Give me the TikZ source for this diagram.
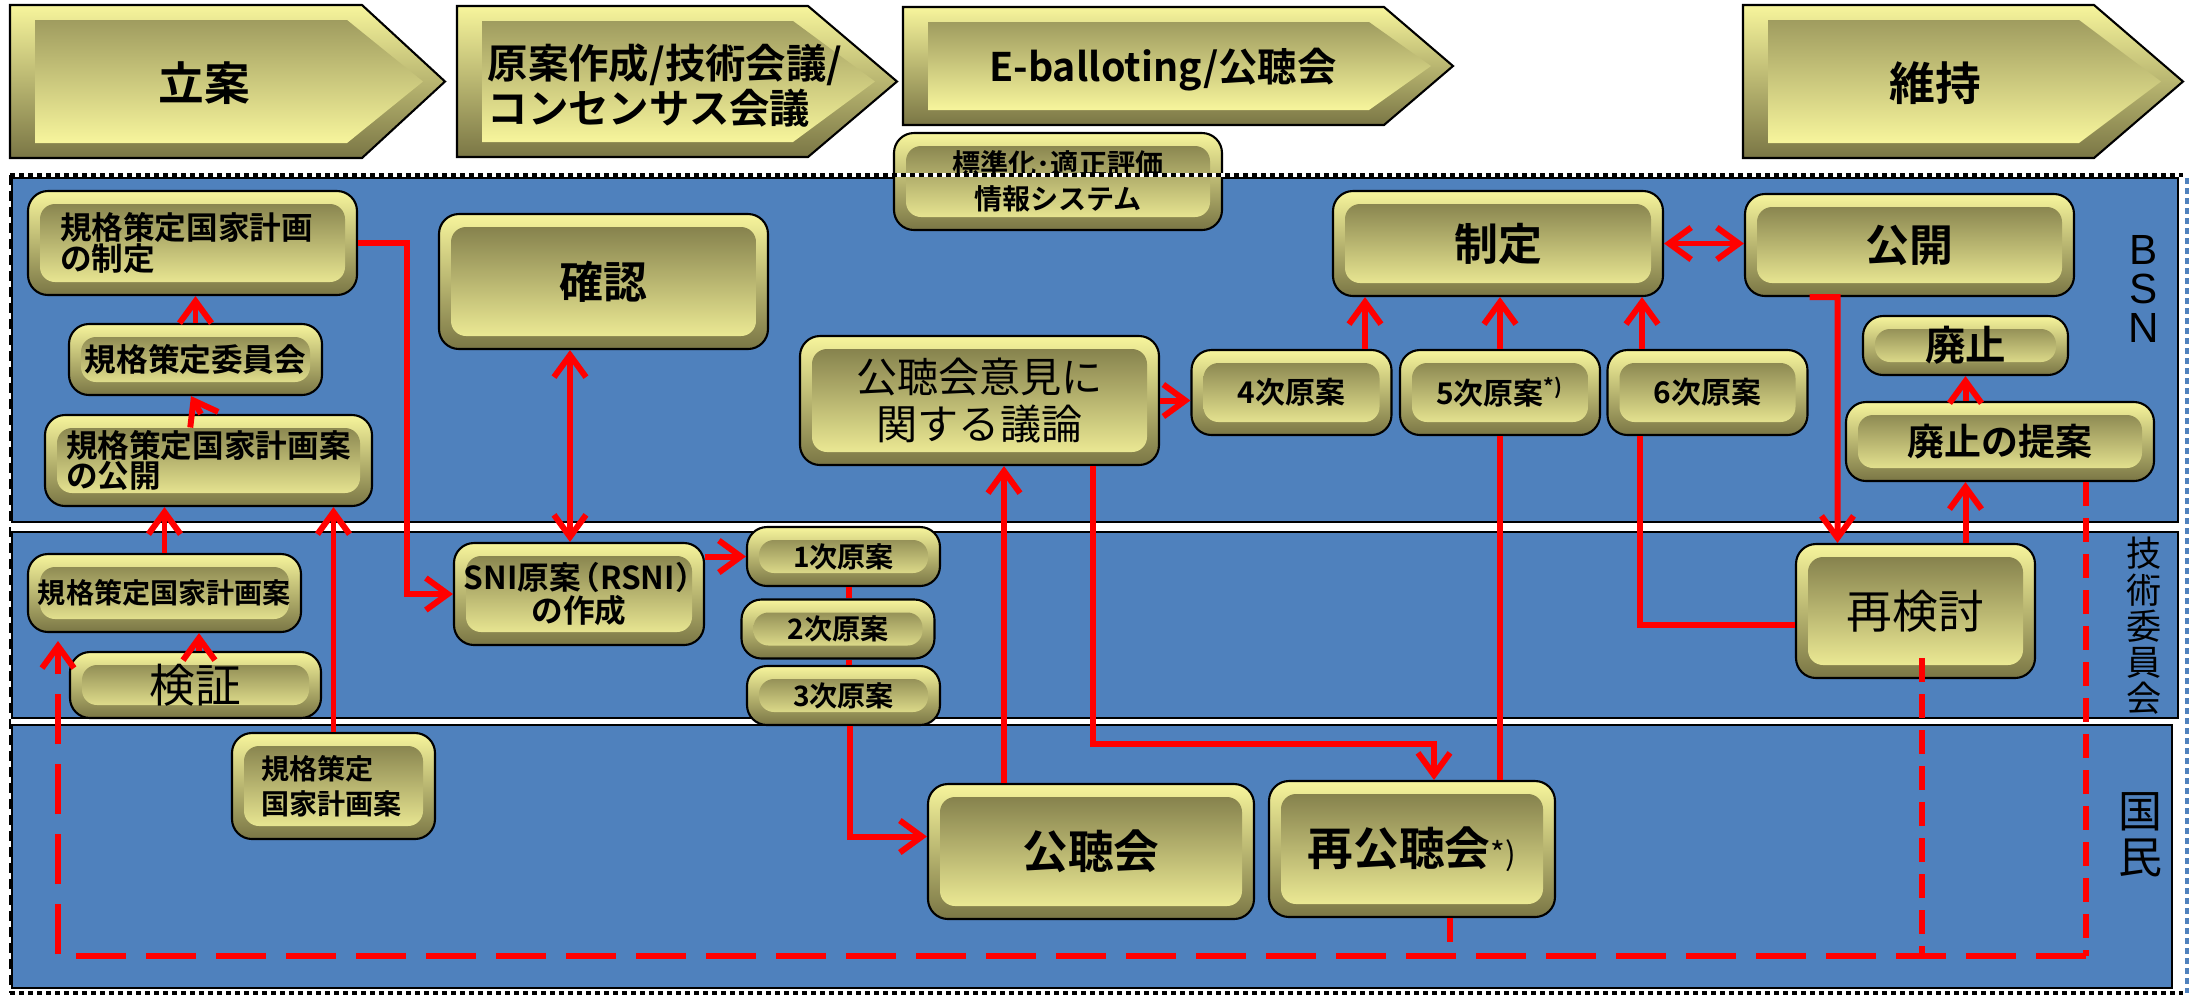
\documentclass[tikz,border=0pt]{standalone}
\usepackage[svgnames]{xcolor}
\usepackage{fontspec}
\setmainfont{Noto Sans CJK JP}[BoldFont={Noto Sans CJK JP Bold}]
\newfontfamily\latinfont{Liberation Sans}
\usepackage{tikz}
\usetikzlibrary{arrows.meta}
\definecolor{bandblue}{HTML}{4F81BD}
\definecolor{goldlight}{HTML}{F7F59C}
\definecolor{golddark}{HTML}{7A7645}
\tikzstyle{band}=[draw=black,fill=bandblue,line width=0.6pt]
\tikzstyle{gold}=[draw=black,line width=0.6pt,rounded corners=0.2cm,
  top color=goldlight,bottom color=golddark,inner sep=0pt,align=center,
  path picture={\shade[top color=golddark,bottom color=goldlight,rounded corners=0.15cm]
    ([shift={(0.12,0.13)}]path picture bounding box.south west) rectangle
    ([shift={(-0.12,-0.13)}]path picture bounding box.north east);}]
\tikzstyle{phase}=[inner sep=0pt,font=\bfseries\fontsize{13}{14}\selectfont]
\tikzstyle{bigb}=[font=\bfseries\fontsize{12.5}{13}\selectfont]
\tikzstyle{bigr}=[font=\fontsize{13}{14}\selectfont]
\tikzstyle{midb}=[font=\bfseries\fontsize{9}{8.6}\selectfont]
\tikzstyle{smallb}=[font=\bfseries\fontsize{8}{10}\selectfont]
\tikzstyle{side}=[inner sep=0pt,align=center]
\tikzstyle{flow}=[red,line width=1.7pt,-{Straight Barb[length=2.2mm,width=3.2mm]}]
\tikzstyle{twoway}=[red,line width=1.7pt,{Straight Barb[length=2.2mm,width=3.2mm]}-{Straight Barb[length=2.2mm,width=3.2mm]}]
\tikzstyle{link}=[red,line width=1.7pt]
\tikzstyle{backloop}=[red,line width=1.7pt,dash pattern=on 5mm off 2mm]
\tikzstyle{backdash}=[red,line width=1.7pt,dash pattern=on 2.4mm off 1.2mm]
\begin{document}
\begin{tikzpicture}
\useasboundingbox (0,0) rectangle (21.9,-9.95);
	% phase arrows
	\foreach \xa/\xb/\xc/\ya/\yb in {0.10/3.62/4.45/0.05/1.58, 4.57/8.08/8.97/0.06/1.57,
	  9.03/13.84/14.53/0.07/1.25, 17.43/20.94/21.83/0.05/1.58}
	{
	  \shade[draw=black,line width=0.6pt,top color=goldlight,bottom color=golddark]
	    (\xa,-\ya) -- (\xb,-\ya) -- (\xc,{-(\ya+\yb)/2}) -- (\xb,-\yb) -- (\xa,-\yb) -- cycle;
	  \shade[top color=golddark!70!goldlight,bottom color=goldlight]
	    ({\xa+0.25},{-\ya-0.15}) -- ({\xb-0.15},{-\ya-0.15}) -- ({\xc-0.22},{-(\ya+\yb)/2})
	    -- ({\xb-0.15},{-\yb+0.15}) -- ({\xa+0.25},{-\yb+0.15}) -- cycle;
	}
	\node[phase] (t1) at (2.04,-0.83) {立案};
	\node[phase,font=\bfseries\fontsize{11.5}{12.8}\selectfont,anchor=west,align=left] (t2) at (4.87,-0.855) {原案作成/技術会議/\\コンセンサス会議};
	\node[phase,font=\bfseries\fontsize{11.2}{12}\selectfont] (t3) at (11.63,-0.70) {E-balloting/公聴会};
	\node[phase] (t4) at (19.35,-0.83) {維持};

	% bands
	\draw[band] (0.12,-1.78) rectangle (21.78,-5.22);
	\draw[band] (0.12,-5.32) rectangle (21.78,-7.18);
	\draw[band] (0.12,-7.25) rectangle (21.72,-9.88);
	\node[gold,smallb,minimum width=3.28cm,minimum height=0.97cm] (info) at (10.58,-1.815) {標準化･適正評価\\情報システム};
	\draw[white,line width=1.4pt] (0.1,-1.75) -- (21.83,-1.75);
	\draw[black,line width=1.4pt,dash pattern=on 0.5mm off 0.4mm] (0.1,-1.75) -- (21.83,-1.75);
	\draw[black,line width=0.8pt,dash pattern=on 1mm off 0.6mm] (0.1,-1.75) -- (0.1,-9.93);
	\draw[white,line width=1.4pt] (0.1,-9.93) -- (21.83,-9.93);
	\draw[black,line width=1.4pt,dash pattern=on 0.5mm off 0.4mm] (0.1,-9.93) -- (21.83,-9.93);
	\draw[bandblue,line width=1.4pt,dash pattern=on 0.6mm off 0.4mm] (21.87,-1.78) -- (21.87,-9.93);

	% BSN
	\node[gold,midb,text width=2.65cm,align=left,minimum width=3.29cm,minimum height=1.04cm] (plan) at (1.925,-2.43) {規格策定国家計画\\の制定};
	\node[gold,midb,minimum width=2.53cm,minimum height=0.71cm] (comm) at (1.955,-3.595) {規格策定委員会};
	\node[gold,midb,text width=2.85cm,align=left,minimum width=3.27cm,minimum height=0.91cm] (pub) at (2.085,-4.605) {規格策定国家計画案\\の公開};
	\node[gold,bigb,minimum width=3.29cm,minimum height=1.35cm] (conf) at (6.035,-2.815) {確認};
	\node[gold,font=\fontsize{11.7}{13.5}\selectfont,minimum width=3.59cm,minimum height=1.29cm] (disc) at (9.795,-4.005) {公聴会意見に\\関する議論};
	\node[gold,bigb,minimum width=3.30cm,minimum height=1.05cm] (enact) at (14.98,-2.435) {制定};
	\node[gold,bigb,minimum width=3.29cm,minimum height=1.02cm] (publ) at (19.095,-2.45) {公開};
	\node[gold,font=\bfseries\fontsize{11.5}{12}\selectfont,minimum width=2.05cm,minimum height=0.59cm] (abol) at (19.655,-3.455) {廃止};
	\node[gold,font=\bfseries\fontsize{10.5}{12}\selectfont,minimum width=3.08cm,minimum height=0.79cm] (prop) at (20.0,-4.415) {廃止の提案};
	\foreach \place/\name/\txt in {{(12.915,-3.925)/d4/4次原案}, {(15.0,-3.925)/d5/5次原案\textsuperscript{*)}}, {(17.075,-3.925)/d6/6次原案}}
	  \node[gold,font=\bfseries\fontsize{8.5}{10}\selectfont,minimum width=2cm,minimum height=0.85cm] (\name) at \place {\txt};

	% technical committee
	\node[gold,smallb,minimum width=2.73cm,minimum height=0.78cm] (draft) at (1.645,-5.93) {規格策定国家計画案};
	\node[gold,bigr,minimum width=2.51cm,minimum height=0.66cm] (verif) at (1.955,-6.85) {検証};
	\node[gold,midb,minimum width=2.5cm,minimum height=1.02cm] (sni) at (5.79,-5.94) {SNI原案\kern-0.4em（RSNI）\kern-0.4em\\の作成};
	\foreach \place/\name/\txt in {{(8.435,-5.565)/d1/1次原案}, {(8.38,-6.29)/d2/2次原案}, {(8.435,-6.955)/d3/3次原案}}
	  \node[gold,smallb,minimum width=1.93cm,minimum height=0.59cm] (\name) at \place {\txt};
	\node[gold,bigr,minimum width=2.39cm,minimum height=1.34cm] (rev) at (19.155,-6.11) {再検討};

	% public
	\node[gold,smallb,text width=1.45cm,align=left,minimum width=2.03cm,minimum height=1.06cm] (ndraft) at (3.335,-7.86) {規格策定\\国家計画案};
	\node[gold,font=\bfseries\fontsize{13}{14}\selectfont,minimum width=3.26cm,minimum height=1.35cm] (hear) at (10.91,-8.515) {公聴会};
	\node[gold,font=\bfseries\fontsize{13}{14}\selectfont,minimum width=2.86cm,minimum height=1.36cm] (rehear) at (14.12,-8.49) {再公聴会{\mdseries\fontsize{9}{9}\selectfont *)}};

	% band names
	\node[side,font=\latinfont\fontsize{12}{11}\selectfont] (bsn) at (21.44,-2.89) {B\\S\\N};
	\node[side,font=\fontsize{10}{10.3}\selectfont] (tc) at (21.44,-6.26) {技\\術\\委\\員\\会};
	\node[side,font=\fontsize{12.5}{13}\selectfont] (kokumin) at (21.40,-8.35) {国\\民};

	% connectors
	\draw[flow] (plan.east) -- ++(0.49,0) |- (sni.west);
	\draw[twoway] ([xshift=-0.09cm]sni.north) -- ([xshift=-0.09cm]sni.north |- conf.south);
	\draw[flow] (comm.north) -- (comm.north |- plan.south);
	\draw[flow] ([xshift=-0.075cm]pub.north) -- ([xshift=-0.045cm]comm.south);
	\draw[flow] (draft.north) -- (draft.north |- pub.south);
	\draw[flow] ([xshift=0.035cm]verif.north) -- ([xshift=0.035cm]verif.north |- draft.south);
	\draw[flow] (ndraft.north) -- (ndraft.north |- pub.south);
	\draw[flow] (sni.east |- d1.west) -- (d1.west);
	\draw[link] ([xshift=0.055cm]d1.south) -- ([xshift=0.055cm]d1.south |- d2.north);
	\draw[link] ([xshift=0.055cm]d3.north) -- ([xshift=0.055cm]d3.north |- d2.south);
	\draw[flow] ([xshift=0.065cm]d3.south) |- ([yshift=0.15cm]hear.west);
	\draw[flow] ([xshift=-0.87cm]hear.north) -- ([xshift=-0.87cm]hear.north |- disc.south);
	\draw[flow] ([xshift=1.135cm]disc.south) -- ++(0,-2.78) -| ([xshift=0.22cm]rehear.north);
	\draw[link] (d5.south |- rehear.north) -- (d5.south);
	\draw[flow] (disc.east) -- (disc.east -| d4.west);
	\draw[flow] ([xshift=0.735cm]d4.north) -- ([xshift=0.735cm]d4.north |- enact.south);
	\draw[flow] (d5.north) -- (d5.north |- enact.south);
	\draw[flow] ([xshift=-0.655cm]d6.north) -- ([xshift=-0.655cm]d6.north |- enact.south);
	\draw[twoway] (enact.east) -- (enact.east -| publ.west);
	\draw[flow] ([xshift=-1.0cm]publ.south) -- ++(0.28,0) -- ([xshift=-0.78cm]rev.north);
	\draw[link] ([yshift=-0.14cm]rev.west) -| ([xshift=-0.675cm]d6.south);
	\draw[flow] (abol.south |- rev.north) -- (abol.south |- prop.south);
	\draw[flow] (abol.south |- prop.north) -- (abol.south);

	% way back
	\coordinate (corner) at (0.58,-9.56);
	\coordinate (ret) at (0.58,-6.41);
	\draw[backdash] ([xshift=0.86cm]prop.south) -- ([xshift=0.86cm]prop.south |- corner);
	\draw[backloop,-{Straight Barb[length=2.2mm,width=3.2mm]}] ([xshift=0.86cm]prop.south |- corner) -- (corner) -- (ret);
	\draw[backdash] ([xshift=0.065cm,yshift=0.21cm]rev.south) -- ([xshift=0.065cm]rev.south |- corner);
	\draw[backdash] ([xshift=0.38cm]rehear.south) -- ([xshift=0.38cm]rehear.south |- corner);
\end{tikzpicture}
\end{document}
